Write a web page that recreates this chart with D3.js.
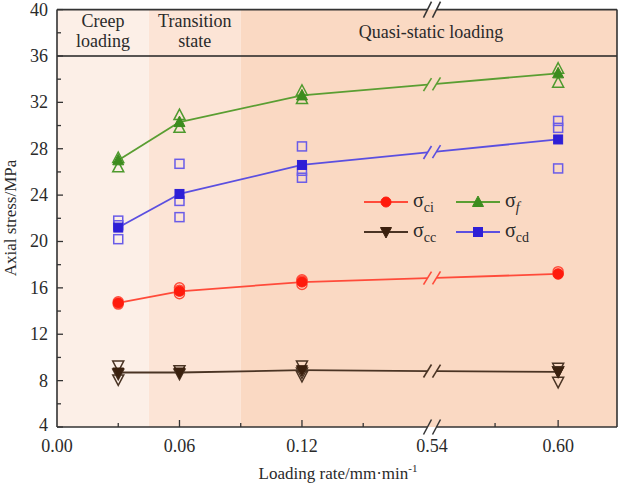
<!DOCTYPE html>
<html><head><meta charset="utf-8">
<script src="https://cdn.jsdelivr.net/npm/d3@7"></script>
<style>body{margin:0;background:#fff}svg{display:block}</style>
</head><body><svg id="c" width="620" height="485" font-family="'Liberation Serif', 'Times New Roman', 'DejaVu Serif', serif" fill="#2a2a2a"></svg>
<script>
const rates = [0.03, 0.06, 0.12, 0.60];
const ciMean = [14.7, 15.7, 16.5, 17.2];
const ccMean = [8.7, 8.7, 8.9, 8.75];
const fMean  = [27.0, 30.3, 32.6, 34.5];
const cdMean = [21.2, 24.1, 26.6, 28.8];
const ciRaw = [[14.6,14.8],[15.5,15.8,16.0],[16.3,16.6,16.7],[17.2,17.4]];
const ccRaw = [[9.3,8.6,8.1],[8.9,8.6],[9.3,8.7,8.4],[9.1,8.8,7.9]];
const fRaw  = [[26.4,27.2],[30.9,29.8],[33.0,32.3],[34.9,33.7]];
const cdRaw = [[21.8,21.4,20.2],[26.7,23.5,22.1],[28.2,26.1,25.5],[30.4,29.8,26.3]];
const xMajor = [0.00, 0.06, 0.12, 0.54, 0.60];
const xMinor = [0.03, 0.09, 0.15, 0.57];
const yMajor = [4,8,12,16,20,24,28,32,36,40];
const yMinor = [6,10,14,18,22,26,30,34,38];
const regions = [
  {name:["Creep","loading"], from:0, to:0.045, color:"#FCEFE7"},
  {name:["Transition","state"], from:0.045, to:0.09, color:"#FCE4D6"},
  {name:["Quasi-static loading"], from:0.09, to:0.628, color:"#FAD9C3"}
];
const regionLine = 36;

const svg = d3.select("#c");
const FF = "'Liberation Serif', 'Times New Roman', 'DejaVu Serif', serif";
const L=57, R=617, T=9.6, B=427, BRK=432;
const x = d3.scaleLinear().domain([0,0.1837,0.54,0.628]).range([L,BRK,BRK,R]);
const y = d3.scaleLinear().domain([4,40]).range([B,T]);
function txt(sel){ return sel.append("text").attr("font-family",FF).attr("fill","#2a2a2a"); }

regions.forEach(r=>{
  svg.append("rect").attr("x",x(r.from)).attr("y",T).attr("width",x(r.to)-x(r.from)).attr("height",B-T).attr("fill",r.color);
});
svg.append("line").attr("x1",L).attr("x2",R).attr("y1",y(regionLine)).attr("y2",y(regionLine)).attr("stroke","#222").attr("stroke-width",1.6);
regions.forEach(r=>{
  const cx=(x(r.from)+x(r.to))/2;
  if(r.name.length===2){
    txt(svg).attr("x",cx).attr("y",27).attr("text-anchor","middle").attr("font-size",18).text(r.name[0]);
    txt(svg).attr("x",cx).attr("y",47).attr("text-anchor","middle").attr("font-size",18).text(r.name[1]);
  } else {
    txt(svg).attr("x",431).attr("y",38).attr("text-anchor","middle").attr("font-size",18).text(r.name[0]);
  }
});

const series = [
  {mean:ciMean, raw:ciRaw, line:"#FF4B3A", fill:"#FF1A0C", hollow:"#FF4B3A", shape:"circle"},
  {mean:ccMean, raw:ccRaw, line:"#4A3424", fill:"#3A200E", hollow:"#4A3424", shape:"down"},
  {mean:fMean,  raw:fRaw,  line:"#5A9E32", fill:"#3C8C1E", hollow:"#4E9A2E", shape:"up"},
  {mean:cdMean, raw:cdRaw, line:"#5B4FE0", fill:"#2E1FD6", hollow:"#6A5CE8", shape:"square"}
];
function marker(g, shape, cx, cy, fill, stroke, sw){
  let el;
  if(shape==="circle") el=g.append("circle").attr("cx",cx).attr("cy",cy).attr("r",5);
  else if(shape==="square") el=g.append("rect").attr("x",cx-4.5).attr("y",cy-4.5).attr("width",9).attr("height",9);
  else if(shape==="up") el=g.append("path").attr("d",`M${cx},${cy-6}L${cx+5.5},${cy+4.5}L${cx-5.5},${cy+4.5}Z`);
  else el=g.append("path").attr("d",`M${cx},${cy+6}L${cx+5.5},${cy-4.5}L${cx-5.5},${cy-4.5}Z`);
  el.attr("fill",fill).attr("stroke",stroke).attr("stroke-width",sw);
}
const b1=427.5, b2=436.5;
series.forEach(s=>{
  const g=svg.append("g");
  const pts = rates.map((r,i)=>[x(r), y(s.mean[i])]);
  for(let i=0;i<2;i++) g.append("line").attr("x1",pts[i][0]).attr("y1",pts[i][1]).attr("x2",pts[i+1][0]).attr("y2",pts[i+1][1]).attr("stroke",s.line).attr("stroke-width",1.8);
  const p=pts[2], q=pts[3];
  const yi = xx => p[1]+(q[1]-p[1])*(xx-p[0])/(q[0]-p[0]);
  g.append("line").attr("x1",p[0]).attr("y1",p[1]).attr("x2",b1).attr("y2",yi(b1)).attr("stroke",s.line).attr("stroke-width",1.8);
  g.append("line").attr("x1",b2).attr("y1",yi(b2)).attr("x2",q[0]).attr("y2",q[1]).attr("stroke",s.line).attr("stroke-width",1.8);
  [b1,b2].forEach(bx=>g.append("line").attr("x1",bx-4).attr("y1",yi(bx)+6.5).attr("x2",bx+4).attr("y2",yi(bx)-6.5).attr("stroke",s.line).attr("stroke-width",1.6));
  s.raw.forEach((arr,i)=>arr.forEach(v=>marker(g,s.shape,x(rates[i]),y(v),"none",s.hollow,1.5)));
  pts.forEach(pt=>marker(g,s.shape,pt[0],pt[1],s.fill,s.fill,1));
});

const ax="#333";
svg.append("line").attr("x1",L).attr("x2",L).attr("y1",T).attr("y2",B).attr("stroke",ax).attr("stroke-width",1.6);
svg.append("line").attr("x1",R).attr("x2",R).attr("y1",T).attr("y2",B).attr("stroke",ax).attr("stroke-width",1.6);
[[L,b1],[b2,R]].forEach(([a,c])=>{
  svg.append("line").attr("x1",a).attr("x2",c).attr("y1",B).attr("y2",B).attr("stroke",ax).attr("stroke-width",1.6);
  svg.append("line").attr("x1",a).attr("x2",c).attr("y1",T).attr("y2",T).attr("stroke",ax).attr("stroke-width",1.6);
});
[b1,b2].forEach(bx=>{
  svg.append("line").attr("x1",bx-4).attr("y1",B+7.5).attr("x2",bx+4).attr("y2",B-7.5).attr("stroke",ax).attr("stroke-width",1.5);
  svg.append("line").attr("x1",bx-4).attr("y1",T+8).attr("x2",bx+4).attr("y2",T-8).attr("stroke",ax).attr("stroke-width",1.5);
});
xMajor.forEach(v=>{
  if(v!==0.54 && v!==0) svg.append("line").attr("x1",x(v)).attr("x2",x(v)).attr("y1",B).attr("y2",B-7).attr("stroke",ax).attr("stroke-width",1.3);
  txt(svg).attr("x",x(v)).attr("y",452).attr("text-anchor","middle").attr("font-size",18).text(d3.format(".2f")(v));
});
xMinor.forEach(v=>svg.append("line").attr("x1",x(v)).attr("x2",x(v)).attr("y1",B).attr("y2",B-4).attr("stroke",ax).attr("stroke-width",1.3));
yMajor.forEach(v=>{
  svg.append("line").attr("x1",L).attr("x2",L+6).attr("y1",y(v)).attr("y2",y(v)).attr("stroke",ax).attr("stroke-width",1.3);
  txt(svg).attr("x",48).attr("y",y(v)+(v===4?3.5:6)).attr("text-anchor","end").attr("font-size",18).text(v);
});
yMinor.forEach(v=>svg.append("line").attr("x1",L).attr("x2",L+4).attr("y1",y(v)).attr("y2",y(v)).attr("stroke",ax).attr("stroke-width",1.3));

const xt=txt(svg).attr("x",338).attr("y",479).attr("text-anchor","middle").attr("font-size",17);
xt.append("tspan").text("Loading rate/mm·min");
xt.append("tspan").attr("font-size",11).attr("dy",-7).text("-1");
txt(svg).attr("transform","translate(16,218) rotate(-90)").attr("text-anchor","middle").attr("font-size",17).text("Axial stress/MPa");

const leg=[
  {s:series[0], sub:"ci", it:false, lx:364, ly:202},
  {s:series[2], sub:"f", it:true, lx:456, ly:202},
  {s:series[1], sub:"cc", it:false, lx:364, ly:232},
  {s:series[3], sub:"cd", it:false, lx:456, ly:232}
];
leg.forEach(l=>{
  const g=svg.append("g");
  g.append("line").attr("x1",l.lx).attr("x2",l.lx+44).attr("y1",l.ly).attr("y2",l.ly).attr("stroke",l.s.line).attr("stroke-width",1.8);
  marker(g,l.s.shape,l.lx+22,l.ly,l.s.fill,l.s.fill,1);
  const t=txt(g).attr("x",l.lx+49).attr("y",l.ly+5).attr("font-size",20);
  t.append("tspan").text("σ");
  const sb=t.append("tspan").attr("font-size",14).attr("dy",5).text(l.sub);
  if(l.it) sb.attr("font-style","italic");
});
</script></body></html>
